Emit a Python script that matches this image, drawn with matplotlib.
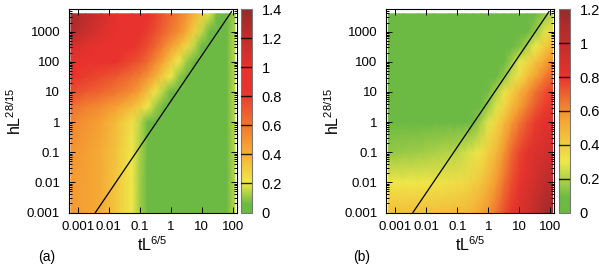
import numpy as np
import matplotlib
matplotlib.use("Agg")
import matplotlib.pyplot as plt
from matplotlib.colors import LinearSegmentedColormap

plt.rcParams['font.family'] = ['Liberation Sans', 'DejaVu Sans']
plt.rcParams['font.size'] = 9.5

# grid nodes (tL^6/5 and hL^28/15)
t_nodes = [0.0006, 0.0018, 0.0056, 0.018, 0.056, 0.1, 0.18, 0.32, 0.56, 1,
           1.8, 3.2, 5.6, 10, 18, 32, 63, 118]
h_nodes = [0.001, 0.01, 0.1, 1, 3.2, 10, 32, 100, 320, 1000, 3900]

# panel (a), rows from h=0.001 upward
val_a = [
    [0.48, 0.45, 0.42, 0.32, 0.20, 0.12, 0.05, 0.03, 0.02, 0.02, 0.02, 0.02, 0.02, 0.02, 0.02, 0.03, 0.06, 0.15],
    [0.48, 0.45, 0.42, 0.32, 0.20, 0.12, 0.05, 0.03, 0.02, 0.02, 0.02, 0.02, 0.02, 0.02, 0.02, 0.03, 0.06, 0.15],
    [0.50, 0.46, 0.42, 0.33, 0.21, 0.13, 0.05, 0.03, 0.02, 0.02, 0.02, 0.02, 0.02, 0.02, 0.02, 0.03, 0.06, 0.15],
    [0.55, 0.50, 0.45, 0.36, 0.24, 0.15, 0.06, 0.03, 0.02, 0.02, 0.02, 0.02, 0.02, 0.02, 0.02, 0.03, 0.06, 0.15],
    [0.62, 0.57, 0.52, 0.45, 0.36, 0.30, 0.20, 0.12, 0.05, 0.03, 0.02, 0.02, 0.02, 0.02, 0.02, 0.03, 0.06, 0.15],
    [0.75, 0.70, 0.66, 0.60, 0.52, 0.45, 0.34, 0.22, 0.14, 0.06, 0.03, 0.02, 0.02, 0.02, 0.02, 0.03, 0.06, 0.15],
    [0.85, 0.80, 0.76, 0.70, 0.62, 0.57, 0.50, 0.40, 0.30, 0.20, 0.10, 0.04, 0.02, 0.02, 0.02, 0.03, 0.06, 0.15],
    [0.95, 0.93, 0.90, 0.84, 0.76, 0.72, 0.64, 0.54, 0.44, 0.32, 0.20, 0.11, 0.04, 0.02, 0.02, 0.03, 0.06, 0.15],
    [1.10, 1.02, 0.97, 0.92, 0.85, 0.80, 0.74, 0.66, 0.57, 0.47, 0.37, 0.26, 0.15, 0.06, 0.03, 0.03, 0.06, 0.15],
    [1.27, 1.15, 1.05, 0.98, 0.90, 0.86, 0.80, 0.74, 0.67, 0.60, 0.52, 0.43, 0.30, 0.15, 0.05, 0.03, 0.05, 0.14],
    [1.33, 1.22, 1.10, 1.00, 0.93, 0.90, 0.85, 0.79, 0.72, 0.65, 0.58, 0.50, 0.40, 0.30, 0.18, 0.06, 0.04, 0.12],
]

# panel (b)
val_b = [
    [0.45, 0.45, 0.45, 0.45, 0.46, 0.47, 0.48, 0.50, 0.54, 0.59, 0.66, 0.74, 0.80, 0.86, 0.92, 1.00, 1.10, 1.17],
    [0.31, 0.31, 0.31, 0.32, 0.33, 0.34, 0.36, 0.39, 0.43, 0.49, 0.57, 0.66, 0.74, 0.80, 0.86, 0.92, 1.00, 1.05],
    [0.15, 0.16, 0.17, 0.19, 0.21, 0.22, 0.25, 0.28, 0.33, 0.40, 0.48, 0.58, 0.68, 0.76, 0.82, 0.86, 0.90, 0.93],
    [0.05, 0.05, 0.05, 0.05, 0.06, 0.06, 0.07, 0.10, 0.18, 0.28, 0.37, 0.46, 0.57, 0.65, 0.72, 0.78, 0.83, 0.86],
    [0.04, 0.04, 0.04, 0.04, 0.04, 0.05, 0.05, 0.06, 0.09, 0.17, 0.27, 0.37, 0.47, 0.56, 0.64, 0.71, 0.77, 0.80],
    [0.04, 0.04, 0.04, 0.04, 0.04, 0.04, 0.04, 0.04, 0.05, 0.10, 0.19, 0.32, 0.39, 0.50, 0.58, 0.66, 0.73, 0.78],
    [0.04, 0.04, 0.04, 0.04, 0.04, 0.04, 0.04, 0.04, 0.04, 0.05, 0.08, 0.15, 0.25, 0.35, 0.45, 0.54, 0.63, 0.70],
    [0.04, 0.04, 0.04, 0.04, 0.04, 0.04, 0.04, 0.04, 0.04, 0.04, 0.04, 0.06, 0.17, 0.29, 0.36, 0.44, 0.53, 0.60],
    [0.04, 0.04, 0.04, 0.04, 0.04, 0.04, 0.04, 0.04, 0.04, 0.04, 0.04, 0.04, 0.05, 0.12, 0.20, 0.30, 0.40, 0.48],
    [0.04, 0.04, 0.04, 0.04, 0.04, 0.04, 0.04, 0.04, 0.04, 0.04, 0.04, 0.04, 0.04, 0.04, 0.07, 0.15, 0.27, 0.35],
    [0.04, 0.04, 0.04, 0.04, 0.04, 0.04, 0.04, 0.04, 0.04, 0.04, 0.04, 0.04, 0.04, 0.04, 0.04, 0.07, 0.15, 0.22],
]

# crossover line end points
line_t = [0.0037, 91]
line_h = [0.001, 4600]

x_ticks = [0.001, 0.01, 0.1, 1, 10, 100]
x_labels = ['0.001', '0.01', '0.1', '1', '10', '100']
y_ticks = [0.001, 0.01, 0.1, 1, 10, 100, 1000]
y_labels = ['0.001', '0.01', '0.1', '1', '10', '100', '1000']
cbar_ticks_a = [0, 0.2, 0.4, 0.6, 0.8, 1, 1.2, 1.4]
cbar_ticks_b = [0, 0.2, 0.4, 0.6, 0.8, 1, 1.2]

green, yellow, orange = '#6cb944', '#efe94a', '#f5a333'
red, dark = '#e8322d', '#982a2b'
cmap_a = LinearSegmentedColormap.from_list('a', [
    (0, green), (0.04, green), (0.143, yellow), (0.32, orange),
    (0.6, red), (0.71, red), (1, dark)])
cmap_b = LinearSegmentedColormap.from_list('b', [
    (0, green), (0.07, green), (0.25, yellow), (0.46, orange),
    (0.67, red), (1, dark)])

fig = plt.figure(figsize=(5.99, 2.71), dpi=100)

W, H = 599, 271
def px(l, t, r, b):
    return [l / W, 1 - b / H, (r - l) / W, (b - t) / H]

panels = [
    (val_a, cmap_a, 1.4, cbar_ticks_a, px(68.5, 9.3, 236.5, 212.5), px(241, 9.3, 252, 212.5), '(a)', 47),
    (val_b, cmap_b, 1.2, cbar_ticks_b, px(386, 9.3, 554, 212.5), px(559, 9.3, 570, 212.5), '(b)', 362),
]

T, Hh = np.meshgrid(t_nodes, h_nodes)
for vals, cmap, vmax, cticks, pos, cpos, tag, tagx in panels:
    ax = fig.add_axes(pos)
    mesh = ax.pcolormesh(T, Hh, np.array(vals), cmap=cmap, vmin=0, vmax=vmax,
                         shading='gouraud', rasterized=True)
    ax.plot(line_t, line_h, color='black', lw=0.9)
    ax.set_xscale('log')
    ax.set_yscale('log')
    ax.set_xlim(10 ** -3.30, 10 ** 2.12)
    ax.set_ylim(0.001, 10 ** 3.74)
    ax.set_xticks(x_ticks, x_labels)
    ax.set_yticks(y_ticks, y_labels)
    ax.tick_params(which='both', direction='in', top=True, right=True, width=0.7)
    ax.tick_params(which='major', length=4, pad=6)
    ax.tick_params(which='minor', length=2)
    for s in ax.spines.values():
        s.set_linewidth(0.8)
    ax.set_xlabel(r'tL$^{\mathregular{6/5}}$', fontsize=11.5, labelpad=2)
    ax.set_ylabel(r'hL$^{\mathregular{28/15}}$', fontsize=11.5, labelpad=2)
    fig.text(tagx / W, 1 - 257 / H, tag, ha='center', va='center', fontsize=10)

    cax = fig.add_axes(cpos)
    cb = fig.colorbar(mesh, cax=cax, ticks=cticks)
    cb.ax.set_yticklabels(['%g' % v for v in cticks])
    cb.ax.tick_params(length=0, pad=7, labelsize=10.5)
    cb.outline.set_edgecolor('#777777')
    cb.outline.set_linewidth(0.8)
    for v in cticks[1:-1]:
        cax.axhline(v, color='black', lw=1.0, alpha=0.85, zorder=5)

fig.savefig('out.png', dpi=100)
